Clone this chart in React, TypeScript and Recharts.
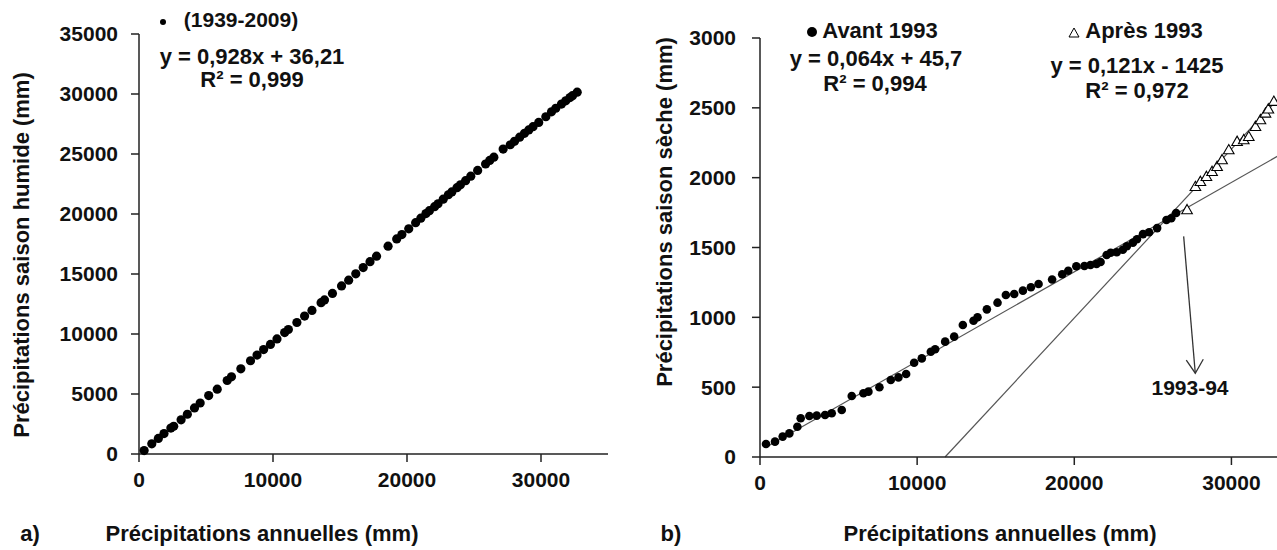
import React from "react";
import { ScatterChart, Scatter, XAxis, YAxis, ReferenceLine } from "recharts";

// Cumulative rainfall (mm), one point per year.
// First 55 points are "Avant 1993" (dots), the rest "Après 1993" (triangles).
const cumAnnual = [
  382, 955, 1444, 1868, 2378, 2590, 3142, 3609, 4140, 4565,
  5202, 5838, 6581, 6900, 7600, 8322, 8810, 9299, 9808, 10297,
  10870, 11146, 11783, 12356, 12908, 13587, 13842, 14437, 15115, 15646,
  16178, 16730, 17240, 17727, 18588, 19231, 19617, 20130, 20645, 21031,
  21416, 21673, 22059, 22316, 22702, 23088, 23345, 23730, 23987, 24373,
  24759, 25273, 25864, 26173, 26482,
  27176, 27707, 28025, 28408, 28768, 29087, 29405, 29830, 30361, 30785,
  31104, 31529, 31847, 32166, 32350, 32700,
];
const cumWet = [
  289, 845, 1298, 1699, 2161, 2313, 2848, 3313, 3839, 4252,
  4865, 5401, 6125, 6432, 7101, 7771, 8240, 8705, 9133, 9591,
  10116, 10375, 10957, 11494, 11963, 12611, 12842, 13380, 14010, 14486,
  15011, 15539, 16025, 16488, 17317, 17923, 18284, 18764, 19277, 19656,
  20033, 20277, 20613, 20854, 21236, 21604, 21836, 22196, 22428, 22777,
  23150, 23634, 24167, 24464, 24735,
  25407, 25772, 26054, 26401, 26725, 27008, 27278, 27632, 28103, 28515,
  28811, 29164, 29434, 29705, 29860, 30155,
];
const cumDry = [
  93, 110, 146, 169, 217, 277, 294, 296, 301, 313,
  337, 437, 456, 468, 499, 551, 570, 594, 675, 706,
  754, 771, 826, 862, 945, 976, 1000, 1057, 1105, 1160,
  1167, 1191, 1215, 1239, 1271, 1308, 1333, 1366, 1368, 1375,
  1383, 1396, 1446, 1462, 1466, 1484, 1509, 1534, 1559, 1596,
  1609, 1639, 1697, 1709, 1747,
  1769, 1935, 1971, 2007, 2043, 2079, 2127, 2198, 2258, 2270,
  2293, 2365, 2413, 2461, 2490, 2545,
];
const splitIndex = 55;

const xTicks = [0, 10000, 20000, 30000];
const yTicksWet = [0, 5000, 10000, 15000, 20000, 25000, 30000, 35000];
const yTicksDry = [0, 500, 1000, 1500, 2000, 2500, 3000];

// trend lines shown on the figure
const fitAvant = { slope: 0.064, intercept: 45.7 };
const fitApres = { slope: 0.121, intercept: -1425 };
const xMax = 35000;

// 1993-94 arrow
const arrowFrom = { x: 26960, y: 1580 };
const arrowTo = { x: 27700, y: 600 };

const wetData = cumAnnual.map((x, i) => ({ x, y: cumWet[i] }));
const dryBefore = cumAnnual.slice(0, splitIndex).map((x, i) => ({ x, y: cumDry[i] }));
const dryAfter = cumAnnual.slice(splitIndex).map((x, i) => ({ x, y: cumDry[i + splitIndex] }));

const INK = "#111";
const FONT = '"Liberation Sans", Arial, sans-serif';
const tickStyle = { fontSize: 21, fontWeight: 700, fill: INK, fontFamily: FONT };
const axisStroke = { stroke: "#222", strokeWidth: 1.5 };

const dot = (r: number) => (p: any) => <circle cx={p.cx} cy={p.cy} r={r} fill="#000" />;
const tri = (p: any) => (
  <path
    d={`M${p.cx},${p.cy - 5.5} L${p.cx + 5.3},${p.cy + 3.8} L${p.cx - 5.3},${p.cy + 3.8} Z`}
    fill="#fff"
    stroke="#000"
    strokeWidth={1.1}
  />
);
const arrowHead = (p: any) => (
  <path
    d={`M${p.cx - 9},${p.cy - 13} L${p.cx},${p.cy} L${p.cx + 8},${p.cy - 14}`}
    fill="none"
    stroke="#333"
    strokeWidth={1.3}
  />
);

function Txt({ x, y, children, size = 22, rotate = false }: any) {
  return (
    <div
      style={{
        position: "absolute",
        left: x,
        top: y,
        transform: `translate(-50%, -50%)${rotate ? " rotate(-90deg)" : ""}`,
        whiteSpace: "pre",
        fontSize: size,
        lineHeight: 1,
      }}
    >
      {children}
    </div>
  );
}

export default function App() {
  return (
    <div
      style={{
        position: "absolute",
        left: 0,
        top: 0,
        width: 1277,
        height: 550,
        overflow: "hidden",
        background: "#fff",
        fontFamily: FONT,
        fontWeight: 700,
        color: INK,
      }}
    >
      {/* a) wet season vs annual */}
      <div style={{ position: "absolute", left: 0, top: 0 }}>
        <ScatterChart width={640} height={550} margin={{ top: 34, right: 32, bottom: 66, left: 0 }}>
          <XAxis
            type="number" dataKey="x" domain={[0, xMax]} ticks={xTicks} height={30}
            tickSize={8} tickMargin={10} tick={tickStyle} axisLine={axisStroke} tickLine={axisStroke}
          />
          <YAxis
            type="number" dataKey="y" domain={[0, 35000]} ticks={yTicksWet} width={139}
            tickSize={8} tickMargin={13} tick={tickStyle} axisLine={axisStroke} tickLine={axisStroke}
          />
          <Scatter data={wetData} shape={dot(4.6)} isAnimationActive={false} />
        </ScatterChart>
      </div>

      {/* b) dry season vs annual */}
      <div style={{ position: "absolute", left: 640, top: 0 }}>
        <ScatterChart width={700} height={550} margin={{ top: 38, right: 30, bottom: 63, left: 0 }}>
          <XAxis
            type="number" dataKey="x" domain={[0, xMax]} ticks={xTicks} height={30}
            tickSize={8} tickMargin={10} tick={tickStyle} axisLine={axisStroke} tickLine={axisStroke}
          />
          <YAxis
            type="number" dataKey="y" domain={[0, 3000]} ticks={yTicksDry} width={120}
            tickSize={8} tickMargin={16} tick={tickStyle} axisLine={axisStroke} tickLine={axisStroke}
          />
          <ReferenceLine
            segment={[
              { x: cumAnnual[0], y: fitAvant.slope * cumAnnual[0] + fitAvant.intercept },
              { x: xMax, y: fitAvant.slope * xMax + fitAvant.intercept },
            ]}
            stroke="#555" strokeWidth={1.2}
          />
          <ReferenceLine
            segment={[
              { x: -fitApres.intercept / fitApres.slope, y: 0 },
              { x: xMax, y: fitApres.slope * xMax + fitApres.intercept },
            ]}
            stroke="#555" strokeWidth={1.2}
          />
          <ReferenceLine segment={[arrowFrom, arrowTo]} stroke="#333" strokeWidth={1.3} />
          <Scatter data={[arrowTo]} shape={arrowHead} isAnimationActive={false} />
          <Scatter data={dryBefore} shape={dot(4.3)} isAnimationActive={false} />
          <Scatter data={dryAfter} shape={tri} isAnimationActive={false} />
        </ScatterChart>
      </div>

      {/* annotations a) */}
      <div style={{ position: "absolute", left: 160, top: 19, width: 6, height: 6, borderRadius: 3, background: "#000" }} />
      <Txt x={241} y={19} size={21}>(1939-2009)</Txt>
      <Txt x={252} y={57}>y = 0,928x + 36,21</Txt>
      <Txt x={252} y={80}>R² = 0,999</Txt>
      <Txt x={22} y={255} rotate>Précipitations saison humide (mm)</Txt>
      <Txt x={30} y={534}>a)</Txt>
      <Txt x={262} y={534}>Précipitations annuelles (mm)</Txt>

      {/* annotations b) */}
      <div style={{ position: "absolute", left: 807, top: 27, width: 10, height: 10, borderRadius: 5, background: "#000" }} />
      <Txt x={880} y={31}>Avant 1993</Txt>
      <Txt x={876} y={59}>y = 0,064x + 45,7</Txt>
      <Txt x={875} y={84}>R² = 0,994</Txt>
      <svg style={{ position: "absolute", left: 1068, top: 27 }} width={12} height={12}>
        <path d="M6,1 L11,10 L1,10 Z" fill="#fff" stroke="#000" strokeWidth={1} />
      </svg>
      <Txt x={1144} y={31}>Après 1993</Txt>
      <Txt x={1137} y={66}>y = 0,121x - 1425</Txt>
      <Txt x={1137} y={91}>R² = 0,972</Txt>
      <Txt x={1190} y={387} size={21}>1993-94</Txt>
      <Txt x={665} y={212} rotate>Précipitations saison sèche (mm)</Txt>
      <Txt x={671} y={534}>b)</Txt>
      <Txt x={1000} y={534}>Précipitations annuelles (mm)</Txt>
    </div>
  );
}
